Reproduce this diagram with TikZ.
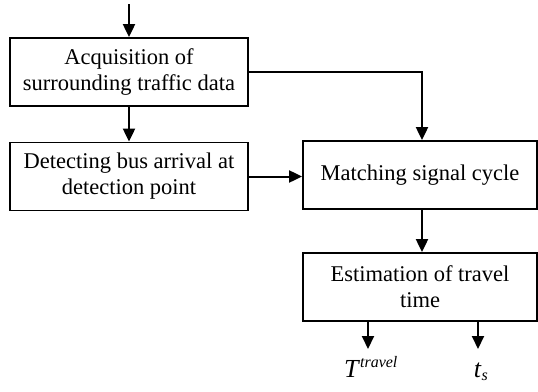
\documentclass[tikz,border=0pt]{standalone}
\usepackage{fontspec}
\setmainfont{Liberation Serif}
\usetikzlibrary{arrows.meta}
\begin{document}
\begin{tikzpicture}[x=1pt,y=-1pt,
  procbox/.style={draw, line width=1.8pt, minimum width=#1, minimum height=68pt,
    inner sep=0pt, align=center, font=\fontsize{22.5}{26}\selectfont},
  flow/.style={line width=2pt, -{Triangle[length=13pt,width=12pt]}},
  outlabel/.style={inner sep=0pt, font=\fontsize{26}{28}\selectfont}]
  \useasboundingbox (0,0) rectangle (538,391);
  % process boxes
  \node[procbox=238pt] (acq) at (129,72) {Acquisition of\\surrounding traffic data};
  \node[procbox=238pt] (det) at (129,176.5) {Detecting bus arrival at\\detection point};
  \node[procbox=234pt] (match) at (420,175) {Matching signal cycle};
  \node[procbox=234pt] (est) at (420,287) {Estimation of travel\\time};
  % entry and exit points
  \coordinate (in) at (129,4);
  \coordinate (corner) at (422,72);
  \coordinate (o1) at (368,349);
  \coordinate (o2) at (478,349);
  \node[outlabel, anchor=base] (tt) at (371,377) {\textit{T}$^{\textit{\fontsize{16}{18}\selectfont travel}}$};
  \node[outlabel, anchor=base] (ts) at (481,377) {\textit{t}$_{\textit{\fontsize{16}{18}\selectfont s}}$};
  % connectors
  \draw[flow] (in) -- (acq.north);
  \draw[flow] (acq.south) -- (det.north);
  \draw[flow] (acq.east) -- (corner) -- (corner |- match.north);
  \draw[flow] (det.east) -- (det.east -| match.west);
  \draw[flow] (match.south -| corner) -- (corner |- est.north);
  \draw[flow] (o1 |- est.south) -- (o1);
  \draw[flow] (o2 |- est.south) -- (o2);
\end{tikzpicture}
\end{document}
